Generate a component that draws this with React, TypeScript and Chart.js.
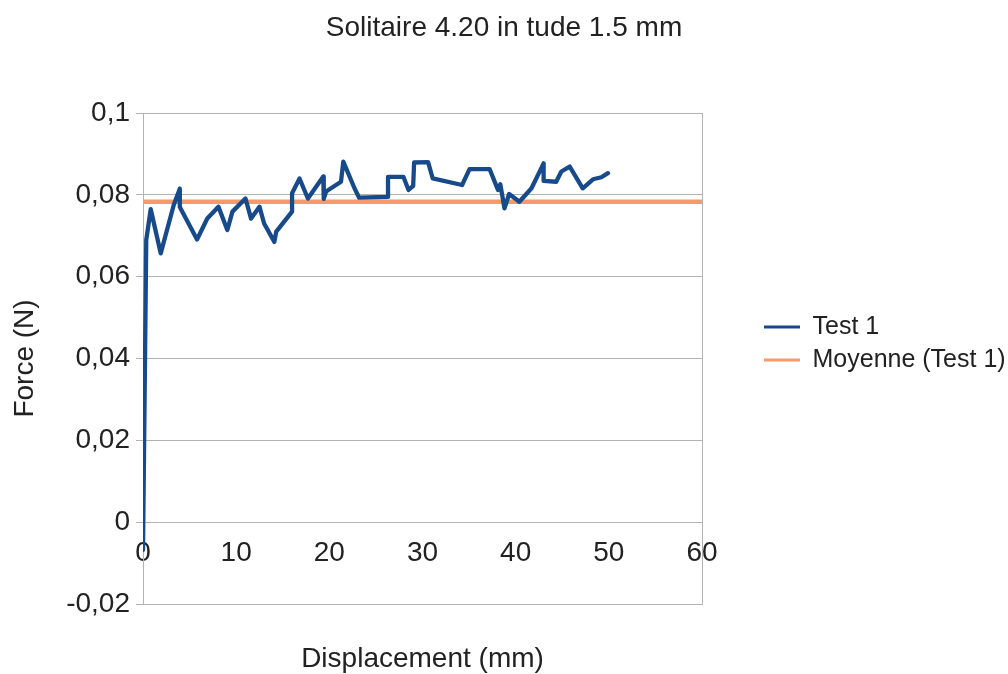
import { useEffect, useRef } from 'react';
import { Chart, registerables } from 'chart.js';

Chart.register(...registerables);

const chartTitle = 'Solitaire 4.20 in tude 1.5 mm';
const xAxisTitle = 'Displacement (mm)';
const yAxisTitle = 'Force (N)';
const seriesNames = ['Test 1', 'Moyenne (Test 1)'];

const displacement = [
  0, 0.35, 0.83, 1.9, 3.3, 3.95, 3.95, 5.8, 6.9, 8.1, 9.05, 9.6, 11.0, 11.6, 12.5, 13.0, 14.1, 14.3,
  16.0, 16.0, 16.8, 17.7, 19.35, 19.4, 19.65, 21.25, 21.5, 22.7, 23.2, 26.3, 26.3, 27.95, 28.5, 29.0,
  29.1, 30.6, 31.1, 34.25, 35.05, 37.2, 38.1, 38.35, 38.8, 39.3, 40.4, 41.7, 43.0, 43.0, 44.35, 44.9,
  45.8, 47.2, 48.3, 49.2, 49.9,
];
const force = [
  -0.0068, 0.069, 0.0765, 0.0657, 0.0775, 0.0815, 0.077, 0.0691, 0.0742, 0.0771, 0.0714, 0.0759,
  0.0791, 0.0742, 0.0771, 0.073, 0.0685, 0.071, 0.0759, 0.0804, 0.084, 0.0791, 0.0845, 0.079, 0.0808,
  0.0832, 0.0881, 0.0816, 0.0793, 0.0795, 0.0844, 0.0844, 0.0812, 0.0822, 0.0879, 0.088, 0.084,
  0.0824, 0.0863, 0.0863, 0.0812, 0.0826, 0.0767, 0.0802, 0.0783, 0.0816, 0.0877, 0.0834, 0.0832,
  0.0857, 0.0869, 0.0816, 0.0838, 0.0843, 0.0853,
];
const meanX = [0, 60];
const meanForce = [0.0783, 0.0783];

const xMin = 0;
const xMax = 60;
const xStep = 10;
const yMin = -0.02;
const yMax = 0.1;
const yStep = 0.02;

const FONT = '"Liberation Sans", Arial, sans-serif';
const TEXT = '#222222';
const GRID = '#b3b3b3';
const BLUE = '#174a8a';
const ORANGE = '#f8996b';

function formatY(v: number): string {
  const r = Math.round(v * 100) / 100;
  return String(r).replace('.', ',');
}

export default function App() {
  const canvasRef = useRef<HTMLCanvasElement | null>(null);

  useEffect(() => {
    if (!canvasRef.current) return;
    const testData = displacement.map((x, i) => ({ x, y: force[i] }));
    const meanData = meanX.map((x, i) => ({ x, y: meanForce[i] }));

    const chart = new Chart(canvasRef.current, {
      type: 'line',
      data: {
        datasets: [
          {
            label: seriesNames[0],
            data: testData,
            borderColor: BLUE,
            backgroundColor: BLUE,
            borderWidth: 4.3,
            pointRadius: 0,
            tension: 0,
            borderJoinStyle: 'round',
            borderCapStyle: 'round',
            xAxisID: 'x',
            yAxisID: 'y',
          },
          {
            label: seriesNames[1],
            data: meanData,
            borderColor: ORANGE,
            backgroundColor: ORANGE,
            borderWidth: 4.5,
            pointRadius: 0,
            tension: 0,
            xAxisID: 'x',
            yAxisID: 'y',
          },
        ],
      },
      options: {
        animation: false,
        responsive: true,
        maintainAspectRatio: false,
        devicePixelRatio: 1,
        layout: { padding: { top: 13, left: 0, right: 0, bottom: 0 } },
        plugins: {
          tooltip: { enabled: false },
          title: {
            display: true,
            text: chartTitle,
            color: TEXT,
            font: { family: FONT, size: 28, weight: 'normal', lineHeight: 1 },
            padding: { top: 1, bottom: 71 },
          },
          legend: {
            display: true,
            position: 'right',
            maxWidth: 252,
            labels: {
              color: TEXT,
              font: { family: FONT, size: 25 },
              usePointStyle: true,
              pointStyle: 'line',
              pointStyleWidth: 36,
              padding: 8,
              generateLabels: (c: any) =>
                (Chart.defaults.plugins.legend.labels as any)
                  .generateLabels(c)
                  .map((l: any) => ({ ...l, lineWidth: 3 })),
            },
          },
        },
        scales: {
          x: {
            type: 'linear',
            position: { y: 0 } as any,
            min: xMin,
            max: xMax,
            grid: { display: false, drawTicks: false },
            border: { display: false },
            ticks: {
              stepSize: xStep,
              color: TEXT,
              padding: 14,
              maxRotation: 0,
              font: { family: FONT, size: 28 },
            },
          },
          x2: {
            type: 'linear',
            position: 'bottom',
            min: xMin,
            max: xMax,
            grid: { display: false, drawTicks: false },
            border: { display: true, color: GRID, width: 1 },
            ticks: { display: false },
            title: {
              display: true,
              text: xAxisTitle,
              color: TEXT,
              font: { family: FONT, size: 28, lineHeight: 1 },
              padding: { top: 0, bottom: 1 },
            },
            afterFit: (s: any) => {
              s.height = 70;
            },
          },
          y: {
            type: 'linear',
            position: 'left',
            min: yMin,
            max: yMax,
            grid: { color: GRID, lineWidth: 1, tickLength: 7, drawTicks: true },
            border: { display: true, color: GRID, width: 1 },
            ticks: {
              stepSize: yStep,
              color: TEXT,
              padding: 6,
              font: { family: FONT, size: 28 },
              callback: (v: any) => formatY(Number(v)),
            },
            title: {
              display: true,
              text: yAxisTitle,
              color: TEXT,
              font: { family: FONT, size: 28, lineHeight: 1 },
              padding: { top: 11, bottom: 0 },
            },
            afterFit: (s: any) => {
              s.width = 143;
            },
          },
          yr: {
            type: 'linear',
            position: 'right',
            min: yMin,
            max: yMax,
            grid: { display: false, drawTicks: false },
            border: { display: true, color: GRID, width: 1 },
            ticks: { display: false },
            afterFit: (s: any) => {
              s.width = 54;
            },
          },
        },
      },
    });
    return () => chart.destroy();
  }, []);

  return (
    <div style={{ position: 'fixed', left: 0, top: 0, width: 1008, height: 674, background: '#fff' }}>
      <canvas ref={canvasRef} />
    </div>
  );
}
